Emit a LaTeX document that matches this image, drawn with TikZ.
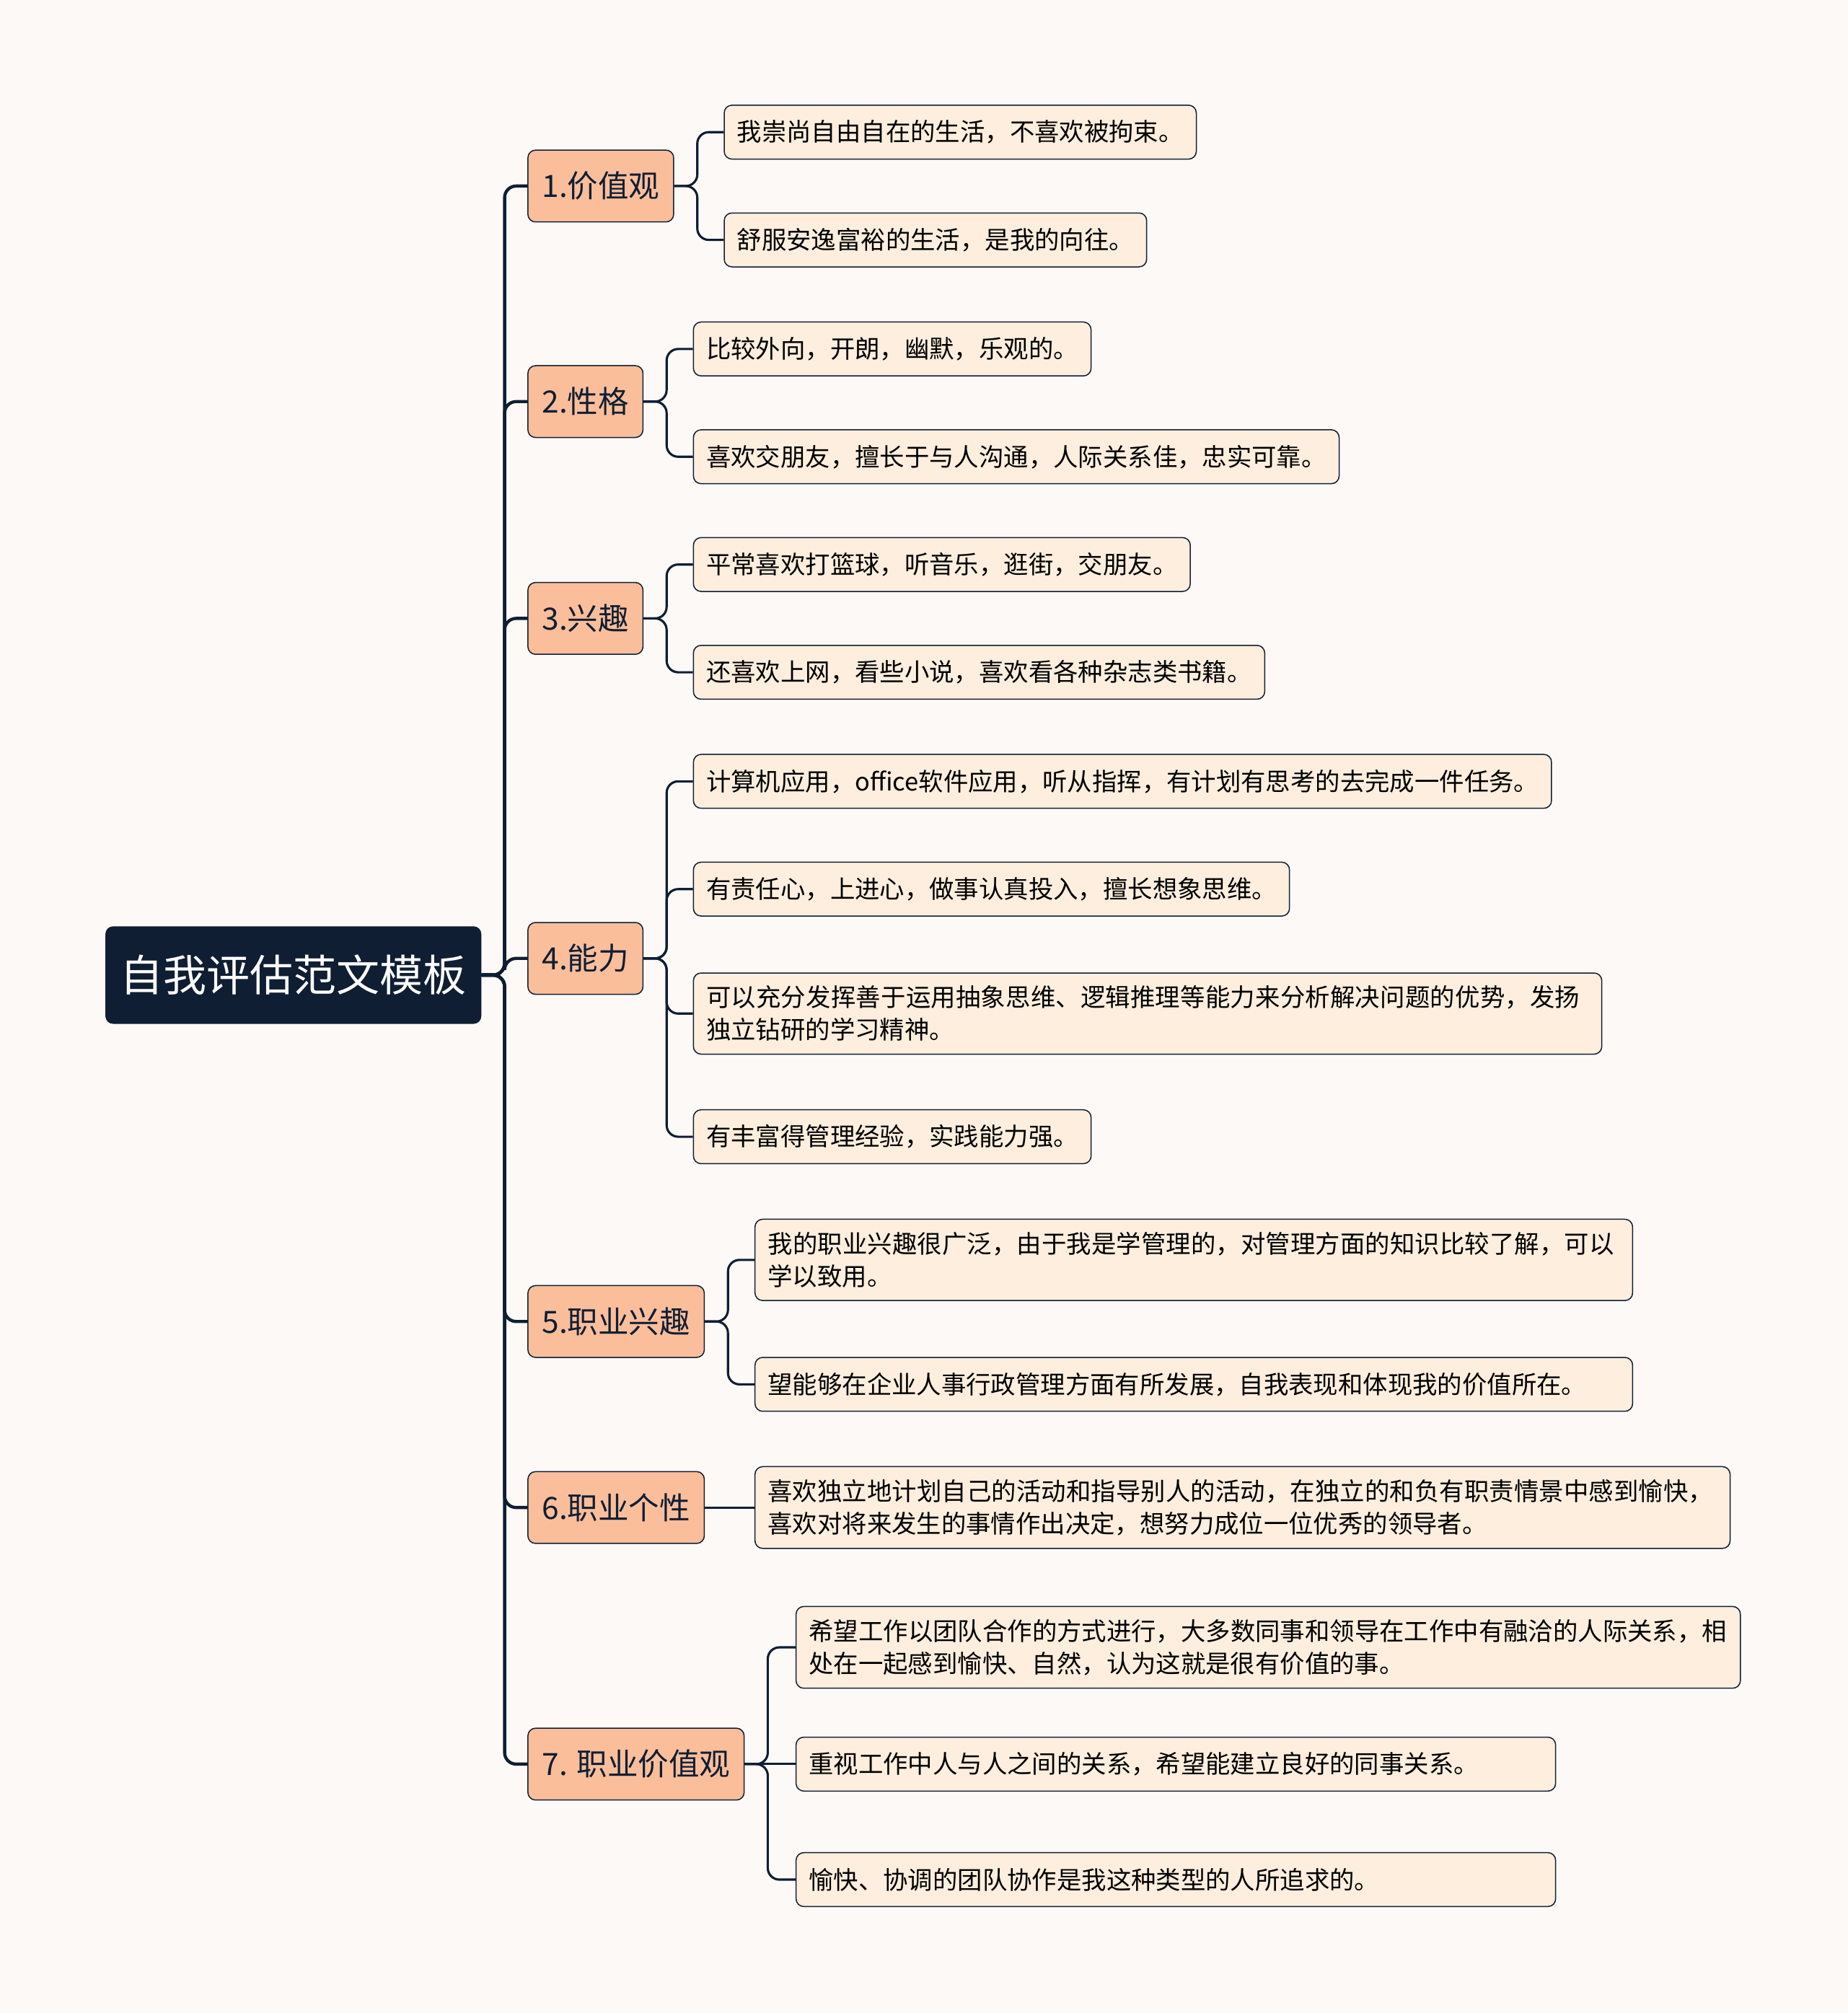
\documentclass[tikz,border=0pt]{standalone}
\usepackage{fontspec}
\setmainfont{Noto Sans CJK SC}
\XeTeXlinebreaklocale "zh"
\XeTeXlinebreakskip=0pt plus 1pt
\usetikzlibrary{positioning}
\definecolor{bgc}{HTML}{FDF9F6}
\definecolor{navy}{HTML}{0F1E33}
\definecolor{peach}{HTML}{FBBE9B}
\definecolor{cream}{HTML}{FDEEDD}
\begin{document}
\begin{tikzpicture}[x=0.05cm,y=-0.05cm]
    \tikzstyle{root}=[rectangle,rounded corners=0.3cm,fill=navy,text=white,font=\fontsize{48}{56}\selectfont,minimum width=14.65cm,minimum height=3.8cm,anchor=west]
    \tikzstyle{topic}=[rectangle,rounded corners=0.3cm,draw=navy,line width=1.2pt,fill=peach,text=navy,font=\fontsize{34}{40}\selectfont,minimum height=2.8cm,inner xsep=0.55cm,anchor=west]
    \tikzstyle{leaf}=[rectangle,rounded corners=0.3cm,draw=navy,line width=1.2pt,fill=cream,text=black,font=\fontsize{27.5}{36}\selectfont,minimum height=2.1cm,inner xsep=0.5cm,inner ysep=0.5cm,align=left,anchor=west]
    \tikzstyle{link}=[draw=navy,line width=3.5pt,rounded corners=0.45cm]
    \fill[bgc] (0,0) rectangle (1440,1569);
    \useasboundingbox (0,0) rectangle (1440,1569);
    \node[root] (r) at (82,760) {自我评估范文模板};
    % topics
    \node[topic] (t1) at (411,145) {1.价值观};
    \node[topic] (t2) at (411,313) {2.性格};
    \node[topic] (t3) at (411,482) {3.兴趣};
    \node[topic] (t4) at (411,747) {4.能力};
    \node[topic] (t5) at (411,1030) {5.职业兴趣};
    \node[topic] (t6) at (411,1175) {6.职业个性};
    \node[topic] (t7) at (411,1375) {7. 职业价值观};
    \foreach \t in {t1,t2,t3,t4,t5,t6,t7}
      \draw[link] (r.east) -- ++(18,0) |- (\t.west);
    % leaves
    \node[leaf] (a1) at (564,103) {我崇尚自由自在的生活，不喜欢被拘束。};
    \node[leaf] (a2) at (564,187) {舒服安逸富裕的生活，是我的向往。};
    \node[leaf] (b1) at (540,272) {比较外向，开朗，幽默，乐观的。};
    \node[leaf] (b2) at (540,356) {喜欢交朋友，擅长于与人沟通，人际关系佳，忠实可靠。};
    \node[leaf] (c1) at (540,440) {平常喜欢打篮球，听音乐，逛街，交朋友。};
    \node[leaf] (c2) at (540,524) {还喜欢上网，看些小说，喜欢看各种杂志类书籍。};
    \node[leaf] (d1) at (540,609) {计算机应用，office软件应用，听从指挥，有计划有思考的去完成一件任务。};
    \node[leaf] (d2) at (540,693) {有责任心，上进心，做事认真投入，擅长想象思维。};
    \node[leaf,text width=34.4cm] (d3) at (540,790) {可以充分发挥善于运用抽象思维、逻辑推理等能力来分析解决问题的优势，发扬独立钻研的学习精神。};
    \node[leaf] (d4) at (540,886) {有丰富得管理经验，实践能力强。};
    \node[leaf,text width=33.2cm] (e1) at (588,982) {我的职业兴趣很广泛，由于我是学管理的，对管理方面的知识比较了解，可以学以致用。};
    \node[leaf,text width=33.2cm] (e2) at (588,1079) {望能够在企业人事行政管理方面有所发展，自我表现和体现我的价值所在。};
    \node[leaf,text width=37cm] (f1) at (588,1175) {喜欢独立地计划自己的活动和指导别人的活动，在独立的和负有职责情景中感到愉快，喜欢对将来发生的事情作出决定，想努力成位一位优秀的领导者。};
    \node[leaf,text width=35.8cm] (g1) at (620,1284) {希望工作以团队合作的方式进行，大多数同事和领导在工作中有融洽的人际关系，相处在一起感到愉快、自然，认为这就是很有价值的事。};
    \node[leaf,text width=28.6cm] (g2) at (620,1375) {重视工作中人与人之间的关系，希望能建立良好的同事关系。};
    \node[leaf,text width=28.6cm] (g3) at (620,1465) {愉快、协调的团队协作是我这种类型的人所追求的。};
    \foreach \p/\l in {t1/a1,t1/a2,t2/b1,t2/b2,t3/c1,t3/c2,t4/d1,t4/d2,t4/d3,t4/d4,t5/e1,t5/e2,t7/g1,t7/g3}
      \draw[link,line width=2.5pt] (\p.east) -- ++(18,0) |- (\l.west);
    \draw[link,line width=2.5pt] (t6.east) -- (f1.west);
    \draw[link,line width=2.5pt] (t7.east) -- (g2.west);
\end{tikzpicture}
\end{document}
